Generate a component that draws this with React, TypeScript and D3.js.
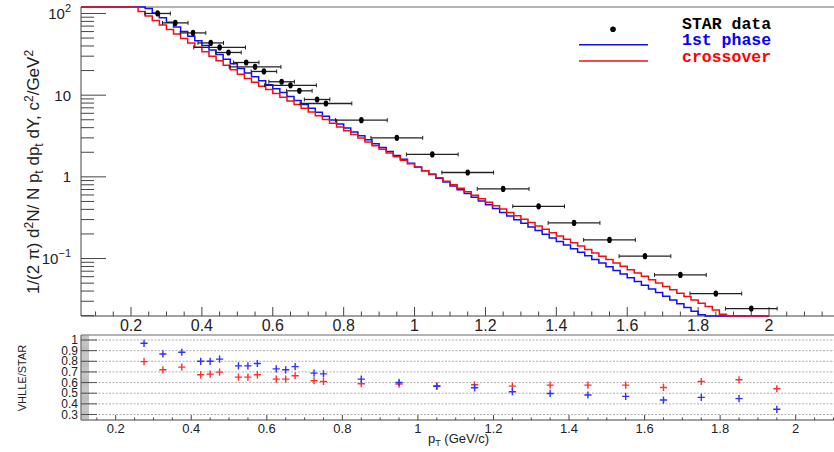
import React from "react";
import * as d3 from "d3";

// ---------------- data ----------------
const histStart = 0;
const histBinWidth = 0.02;

// VHLLE "1st phase" histogram (100 bins, 0..2 GeV/c)
const firstPhaseHist = [
  350, 330, 310, 290, 270, 250, 230, 210, 190, 170,
  149, 131, 115, 101, 88.7, 77.9, 68.4, 60.0, 52.7, 46.3,
  40.6, 35.7, 31.4, 27.5, 24.2, 21.2, 18.7, 16.8, 15.0, 13.4,
  12.0, 10.8, 9.64, 8.63, 7.71, 6.90, 6.18, 5.53, 4.95, 4.43,
  3.96, 3.55, 3.18, 2.84, 2.54, 2.28, 2.04, 1.82, 1.64, 1.47,
  1.32, 1.19, 1.07, 0.959, 0.863, 0.774, 0.697, 0.627, 0.562, 0.506,
  0.455, 0.409, 0.367, 0.332, 0.299, 0.270, 0.244, 0.220, 0.199, 0.179,
  0.162, 0.147, 0.132, 0.119, 0.108, 0.0975, 0.0879, 0.0794, 0.0716, 0.0645,
  0.0581, 0.0524, 0.0471, 0.0425, 0.0383, 0.0345, 0.0310, 0.0280, 0.0252, 0.0227,
  0.0205, 0.0184, 0.0166, 0.0145, 0.0127, 0.0111, 0.00973, 0.00851, 0.00745, 0.00652,
];

// VHLLE "crossover" histogram (100 bins, 0..2 GeV/c)
const crossoverHist = [
  300, 280, 260, 240, 220, 200, 180, 165, 150, 136,
  119, 106, 93.3, 82.0, 72.3, 63.7, 56.1, 49.5, 43.6, 38.5,
  33.9, 29.9, 26.3, 23.2, 20.5, 18.0, 16.0, 14.4, 12.9, 11.7,
  10.5, 9.46, 8.51, 7.66, 6.90, 6.21, 5.60, 5.04, 4.53, 4.08,
  3.67, 3.31, 2.98, 2.68, 2.41, 2.17, 1.96, 1.76, 1.60, 1.45,
  1.31, 1.19, 1.08, 0.976, 0.885, 0.802, 0.726, 0.658, 0.597, 0.541,
  0.490, 0.444, 0.403, 0.366, 0.333, 0.303, 0.276, 0.251, 0.228, 0.207,
  0.189, 0.172, 0.156, 0.142, 0.129, 0.117, 0.107, 0.0973, 0.0885, 0.0805,
  0.0731, 0.0665, 0.0605, 0.0551, 0.0501, 0.0455, 0.0414, 0.0377, 0.0343, 0.0311,
  0.0283, 0.0258, 0.0234, 0.0208, 0.0186, 0.0166, 0.0148, 0.0132, 0.0117, 0.0105,
];

// STAR data
const starPt = [
  0.275, 0.325, 0.375, 0.425, 0.45, 0.475, 0.525, 0.55, 0.575, 0.625, 0.65, 0.675, 0.725, 0.75,
  0.85, 0.95, 1.05, 1.15, 1.25, 1.35, 1.45, 1.55, 1.65, 1.75, 1.85, 1.95,
];
const starYield = [
  100, 76.7, 57.8, 43.6, 38.4, 33.3, 25.1, 22.2, 19.5, 14.6, 13.2, 11.3, 8.85, 7.91,
  4.94, 3.0, 1.88, 1.13, 0.711, 0.436, 0.273, 0.169, 0.107, 0.063, 0.0373, 0.0244,
];
const starPtErr = [
  0.036, 0.036, 0.036, 0.036, 0.073, 0.036, 0.036, 0.073, 0.036, 0.036, 0.073, 0.036, 0.036, 0.073,
  0.073, 0.073, 0.073, 0.073, 0.073, 0.073, 0.073, 0.073, 0.073, 0.073, 0.073, 0.073,
];

// Ratio VHLLE/STAR
const ratioFirstPhase = [
  0.969, 0.869, 0.885, 0.8, 0.8, 0.82, 0.757, 0.757, 0.779, 0.729, 0.72, 0.75, 0.689, 0.682,
  0.632, 0.601, 0.564, 0.551, 0.514, 0.498, 0.483, 0.47, 0.436, 0.461, 0.449, 0.349,
];
const ratioCrossover = [
  0.797, 0.72, 0.745, 0.673, 0.679, 0.698, 0.651, 0.651, 0.673, 0.632, 0.632, 0.664, 0.617, 0.61,
  0.589, 0.586, 0.57, 0.579, 0.567, 0.576, 0.576, 0.576, 0.554, 0.61, 0.626, 0.542,
];

const xTickValues = [0.2, 0.4, 0.6, 0.8, 1.0, 1.2, 1.4, 1.6, 1.8, 2.0];
const xTickLabels = ["0.2", "0.4", "0.6", "0.8", "1", "1.2", "1.4", "1.6", "1.8", "2"];
const yTopTickValues = [100, 10, 1, 0.1];
const yTopTickBase = ["10", "10", "1", "10"];
const yTopTickExp = ["2", "", "", "\u22121"];
const ratioTickValues = [1.0, 0.9, 0.8, 0.7, 0.6, 0.5, 0.4, 0.3];
const ratioTickLabels = ["1", "0.9", "0.8", "0.7", "0.6", "0.5", "0.4", "0.3"];

const legendEntries = ["STAR data", "1st phase", "crossover"];

// ---------------- layout ----------------
const W = 834;
const H = 452;
const FL = 81; // frame left
const FR = 834;
const T_TOP = 7;
const T_BOT = 316;
const R_TOP = 335;
const R_BOT = 420;

const BLUE = "#1010f0";
const RED = "#f01010";
const AX = "#444";
const SANS = "'Liberation Sans', Arial, Helvetica, sans-serif";

export default function App() {
  const xTop = d3.scaleLinear().domain([0.2, 2.0]).range([131, 769]);
  const xTopC = d3
    .scaleLinear()
    .domain([xTop.invert(FL), xTop.invert(FR)])
    .range([FL, FR])
    .clamp(true);
  const yTop = d3.scaleLog().domain([0.0198, 120]).range([T_BOT, T_TOP]).clamp(true);

  const xBot = d3.scaleLinear().domain([0.2, 2.0]).range([115.7, 795.7]);
  const yBot = d3.scaleLinear().domain([0.3, 1.0]).range([414.5, 340]);

  const histPoints = (vals: number[]) => {
    const pts: [number, number][] = [];
    vals.forEach((v, i) => {
      const lo = histStart + i * histBinWidth;
      const hi = lo + histBinWidth;
      pts.push([lo, v], [hi, v]);
    });
    return pts;
  };
  const histLine = d3
    .line<[number, number]>()
    .x((d) => xTopC(d[0]))
    .y((d) => yTop(d[1]));

  const xTopMinor: number[] = [];
  for (let k = 1; k <= 44; k++) {
    const v = k * 0.05;
    const px = xTop(v);
    if (px >= FL && px <= FR) xTopMinor.push(v);
  }
  const xBotMinor: number[] = [];
  for (let k = 1; k <= 44; k++) {
    const v = k * 0.05;
    const px = xBot(v);
    if (px >= FL && px <= FR) xBotMinor.push(v);
  }
  const yMinor: number[] = [];
  [0.01, 0.1, 1, 10, 100].forEach((dec) => {
    for (let m = 2; m <= 9; m++) {
      const v = dec * m;
      if (v >= 0.0198 && v <= 120) yMinor.push(v);
    }
  });
  const rMinor: number[] = [];
  for (let k = 25; k <= 105; k++) {
    const v = k / 100;
    const py = yBot(v);
    if (py >= R_TOP && py <= R_BOT) rMinor.push(v);
  }

  return (
    <svg
      width={W}
      height={H}
      style={{ position: "absolute", left: 0, top: 0, background: "#fff" }}
      fontFamily={SANS}
    >
      <rect x={0} y={0} width={W} height={H} fill="#fff" />

      {/* ---------- TOP PANEL ---------- */}
      <line x1={FL} x2={FR} y1={T_TOP} y2={T_TOP} stroke="#666" strokeWidth={1} />
      <line x1={FL} x2={FL} y1={T_TOP} y2={T_BOT} stroke={AX} strokeWidth={1} />
      <line x1={FL} x2={FR} y1={T_BOT} y2={T_BOT} stroke={AX} strokeWidth={1} />

      {xTopMinor.map((v, i) => {
        const major = xTickValues.some((t) => Math.abs(t - v) < 1e-6);
        return (
          <line
            key={"xtm" + i}
            x1={xTop(v)}
            x2={xTop(v)}
            y1={T_BOT}
            y2={T_BOT - (major ? 9 : 4.5)}
            stroke={AX}
            strokeWidth={1}
          />
        );
      })}
      {xTickValues.map((v, i) => (
        <text key={"xtl" + i} x={xTop(v)} y={331} fontSize={16} textAnchor="middle" fill="#222">
          {xTickLabels[i]}
        </text>
      ))}

      {yTopTickValues.map((v, i) => (
        <line key={"ytM" + i} x1={FL} x2={FL + 25} y1={yTop(v)} y2={yTop(v)} stroke={AX} strokeWidth={1} />
      ))}
      {yMinor.map((v, i) => (
        <line key={"ytm" + i} x1={FL} x2={FL + 13} y1={yTop(v)} y2={yTop(v)} stroke={AX} strokeWidth={1} />
      ))}
      {yTopTickValues.map((v, i) => (
        <text key={"ytl" + i} x={71} y={yTop(v) + 5.5} fontSize={15} textAnchor="end" fill="#222">
          {yTopTickBase[i]}
          {yTopTickExp[i] ? (
            <tspan dy={-7} fontSize={11}>
              {yTopTickExp[i]}
            </tspan>
          ) : null}
        </text>
      ))}

      <text transform="translate(39,172) rotate(-90)" textAnchor="middle" fontSize={17} fill="#222">
        1/(2 π) d
        <tspan dy={-6} fontSize={12}>2</tspan>
        <tspan dy={6}>N/ N p</tspan>
        <tspan dy={4} fontSize={12}>t</tspan>
        <tspan dy={-4}> dp</tspan>
        <tspan dy={4} fontSize={12}>t</tspan>
        <tspan dy={-4}> dY, c</tspan>
        <tspan dy={-6} fontSize={12}>2</tspan>
        <tspan dy={6}>/GeV</tspan>
        <tspan dy={-6} fontSize={12}>2</tspan>
      </text>

      <path d={histLine(histPoints(firstPhaseHist)) || ""} fill="none" stroke={BLUE} strokeWidth={1.5} />
      <path d={histLine(histPoints(crossoverHist)) || ""} fill="none" stroke={RED} strokeWidth={1.5} />

      {starPt.map((p, i) => {
        const cx = xTop(p);
        const cy = yTop(starYield[i]);
        const x1 = xTop(p - starPtErr[i]);
        const x2 = xTop(p + starPtErr[i]);
        return (
          <g key={"star" + i}>
            <line x1={x1} x2={x2} y1={cy} y2={cy} stroke="#222" strokeWidth={1.3} />
            <line x1={x1} x2={x1} y1={cy - 2} y2={cy + 2} stroke="#222" strokeWidth={1} />
            <line x1={x2} x2={x2} y1={cy - 2} y2={cy + 2} stroke="#222" strokeWidth={1} />
            <ellipse cx={cx} cy={cy} rx={2.3} ry={3.1} fill="#000" />
          </g>
        );
      })}

      <circle cx={613} cy={29.3} r={2.8} fill="#000" />
      <line x1={579} x2={648} y1={44.7} y2={44.7} stroke={BLUE} strokeWidth={1.5} />
      <line x1={579} x2={648} y1={61} y2={61} stroke={RED} strokeWidth={1.5} />
      <g fontFamily="'Liberation Mono', 'Courier New', monospace" fontWeight="bold" fontSize={16.5}>
        <text x={682} y={28.5} fill="#000">{legendEntries[0]}</text>
        <text x={682} y={45} fill="#0000ff">{legendEntries[1]}</text>
        <text x={682} y={61.5} fill="#ff0000">{legendEntries[2]}</text>
      </g>

      {/* ---------- RATIO PANEL ---------- */}
      <line x1={FL} x2={FR} y1={R_TOP} y2={R_TOP} stroke="#666" strokeWidth={1} />
      <line x1={FL} x2={FL} y1={R_TOP} y2={R_BOT} stroke={AX} strokeWidth={1} />
      <line x1={FL} x2={FR} y1={R_BOT} y2={R_BOT} stroke={AX} strokeWidth={1} />

      {ratioTickValues.map((v, i) => (
        <line
          key={"rg" + i}
          x1={FL}
          x2={FR}
          y1={yBot(v)}
          y2={yBot(v)}
          stroke="#9a9a9a"
          strokeWidth={0.8}
          strokeDasharray="2 1.5"
        />
      ))}
      {rMinor.map((v, i) => (
        <line key={"rm" + i} x1={FL} x2={FL + 8} y1={yBot(v)} y2={yBot(v)} stroke="#8a8a8a" strokeWidth={0.6} />
      ))}
      {ratioTickValues.map((v, i) => (
        <line key={"rM" + i} x1={FL} x2={FL + 16} y1={yBot(v)} y2={yBot(v)} stroke={AX} strokeWidth={0.9} />
      ))}
      {ratioTickValues.map((v, i) => (
        <text key={"rl" + i} x={78} y={yBot(v) + 4} fontSize={12} textAnchor="end" fill="#222">
          {ratioTickLabels[i]}
        </text>
      ))}
      <text transform="translate(26,378) rotate(-90)" textAnchor="middle" fontSize={11} fill="#222">
        VHLLE/STAR
      </text>

      {xBotMinor.map((v, i) => {
        const major = xTickValues.some((t) => Math.abs(t - v) < 1e-6);
        return (
          <line
            key={"xbm" + i}
            x1={xBot(v)}
            x2={xBot(v)}
            y1={R_BOT}
            y2={R_BOT - (major ? 5 : 2.5)}
            stroke={AX}
            strokeWidth={1}
          />
        );
      })}
      {xTickValues.map((v, i) => (
        <text key={"xbl" + i} x={xBot(v)} y={433} fontSize={13} textAnchor="middle" fill="#222">
          {xTickLabels[i]}
        </text>
      ))}
      <text x={428} y={443} fontSize={13} fill="#222">
        p<tspan dy={3} fontSize={9}>T</tspan>
        <tspan dy={-3}> (GeV/c)</tspan>
      </text>

      {starPt.map((p, i) => {
        const cx = xBot(p);
        const yb = yBot(ratioFirstPhase[i]);
        const yr = yBot(ratioCrossover[i]);
        const s = 3.6;
        return (
          <g key={"rp" + i}>
            <path
              d={`M${cx - s},${yr}H${cx + s}M${cx},${yr - s}V${yr + s}`}
              stroke="#ff3030"
              strokeWidth={1.4}
              fill="none"
            />
            <path
              d={`M${cx - s},${yb}H${cx + s}M${cx},${yb - s}V${yb + s}`}
              stroke="#3030ff"
              strokeWidth={1.4}
              fill="none"
            />
          </g>
        );
      })}
    </svg>
  );
}
